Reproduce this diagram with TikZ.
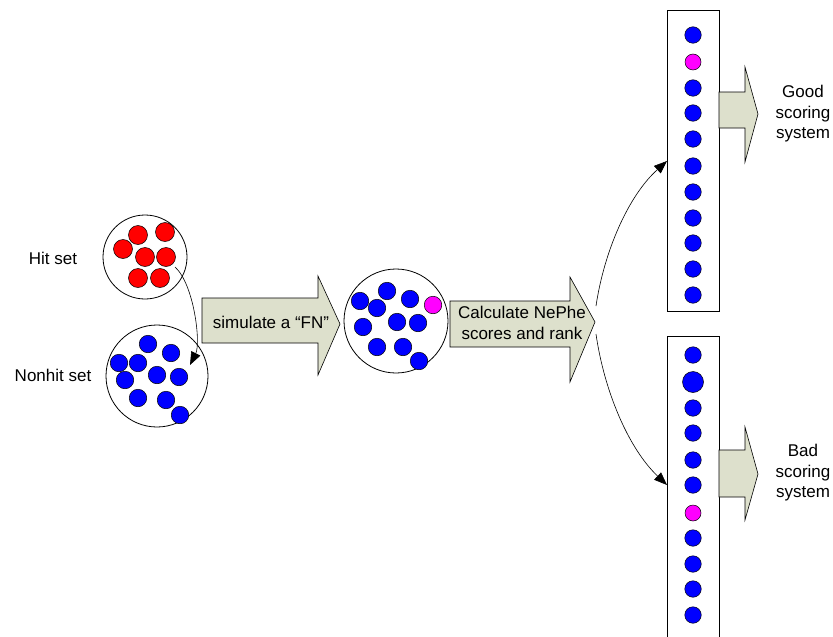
\documentclass[tikz,border=0pt]{standalone}
\usepackage{fontspec}
\setmainfont{Liberation Sans}
\usetikzlibrary{arrows.meta}
\definecolor{arrowfill}{RGB}{221,224,204}
\definecolor{ballblue}{RGB}{0,0,255}
\definecolor{ballpink}{RGB}{255,0,255}
\definecolor{ballred}{RGB}{255,0,0}
\tikzset{
  setcircle/.style={circle, draw=black, line width=0.8pt, inner sep=0pt},
  ball/.style={circle, draw=black, line width=0.5pt, inner sep=0pt, minimum size=17.5pt, fill=ballblue},
  redball/.style={ball, fill=ballred, minimum size=19pt},
  pinkball/.style={ball, fill=ballpink, minimum size=16pt},
  listbox/.style={draw=black, line width=0.8pt, fill=white},
  bigarrow/.style={draw=black, line width=0.6pt, fill=arrowfill},
  lbl/.style={font=\fontsize{17}{20.5}\selectfont, align=center, inner sep=0pt},
  conn/.style={line width=0.6pt, -{Triangle[length=13pt,width=10pt]}},
}
\begin{document}
\begin{tikzpicture}[x=1pt, y=-1pt]
\useasboundingbox (0,0) rectangle (833,637);

% input sets
\node[setcircle, minimum size=84pt] (hit) at (145,257) {};
\node[setcircle, minimum size=102pt] (nonhit) at (157,376) {};
\node[lbl] (hitlbl) at (53,258) {Hit set};
\node[lbl] (nonhitlbl) at (53,375) {Nonhit set};

\foreach \x/\y [count=\i] in {138/235,165/232,123/249,145/257,166/257,138/278,160/278}
  \node[redball] (r\i) at (\x,\y) {};
\foreach \x/\y [count=\i] in {119/363,148/344,171/353,138/363,125/380,157/375,179/377,138/398,166/400,180/415}
  \node[ball] (n\i) at (\x,\y) {};

% hit moved into the nonhit set
\coordinate (hitstart) at (175,267);
\coordinate (hitend) at (190,365);
\draw[conn] (hitstart) .. controls (194,284) and (201,343) .. (hitend);

% first step arrow
\draw[bigarrow] (202,298) -- (318,298) -- (318,276) -- (340,324) -- (318,375) -- (318,343) -- (202,343) -- cycle;
\node[lbl] (simlbl) at (271,322) {simulate a “FN”};

% mixed set
\node[setcircle, minimum size=104pt] (mixed) at (396,321) {};
\foreach \x/\y [count=\i] in {360/301,387/291,410/299,377/308,363/327,397/322,418/323,377/347,403/347,419/361}
  \node[ball] (m\i) at (\x,\y) {};
\node[pinkball, minimum size=17.5pt] (mfn) at (433,305) {};

% second step arrow
\draw[bigarrow] (450,301) -- (570,301) -- (570,277) -- (595,322) -- (570,382) -- (570,347) -- (450,347) -- cycle;
\node[lbl] (calclbl) at (522,323) {Calculate NePhe\\scores and rank};

% ranked lists
\node[listbox, minimum width=52pt, minimum height=301pt, inner sep=0pt] (good) at (693,160.5) {};
\node[listbox, minimum width=52pt, minimum height=320pt, inner sep=0pt] (bad) at (693,496) {};

\foreach \y [count=\i] in {35,88,113,139,166,192,218,243,269,295}
  \node[ball, minimum size=16.5pt] (g\i) at (693,\y) {};
\node[pinkball] (gfn) at (693,62) {};

\foreach \y [count=\i] in {355,408,433,460,485,538,564,589,615}
  \node[ball, minimum size=16.5pt] (b\i) at (693,\y) {};
\node[ball, minimum size=21pt] (bbig) at (693,382) {};
\node[pinkball] (bfn) at (693,513) {};

% branches to the two outcomes
\coordinate (calcup) at (596,306);
\coordinate (calcdown) at (596,334);
\coordinate (goodin) at (667,161);
\coordinate (badin) at (667,485);
\draw[conn] (calcup) .. controls (604,252) and (628,196) .. (goodin);
\draw[conn] (calcdown) .. controls (604,390) and (628,448) .. (badin);

% outcome arrows
\draw[bigarrow] (719,92) -- (745,92) -- (745,67) -- (758,114) -- (745,162) -- (745,128) -- (719,128) -- cycle;
\draw[bigarrow] (719,450) -- (745,450) -- (745,427) -- (758,474) -- (745,520) -- (745,497) -- (719,497) -- cycle;

\node[lbl] (goodlbl) at (803,114) {Good\\scoring\\system};
\node[lbl] (badlbl) at (803,473) {Bad\\scoring\\system};
\end{tikzpicture}
\end{document}
